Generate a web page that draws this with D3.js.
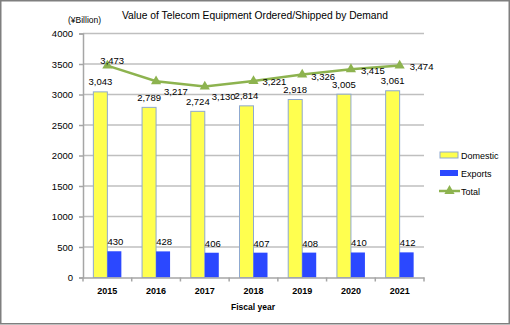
<!DOCTYPE html>
<html><head><meta charset="utf-8">
<script src="https://cdn.jsdelivr.net/npm/d3@7"></script>
<style>body{margin:0;background:#fff}svg{display:block}text{font-family:"Liberation Sans",Arial,sans-serif;fill:#000}</style>
</head><body><svg id="c" width="510" height="325"></svg>
<script>
const years = ["2015","2016","2017","2018","2019","2020","2021"];
const domestic = [3043,2789,2724,2814,2918,3005,3061];
const exportsV = [430,428,406,407,408,410,412];
const total = [3473,3217,3130,3221,3326,3415,3474];
const yTicks = [0,500,1000,1500,2000,2500,3000,3500,4000];
const seriesNames = ["Domestic","Exports","Total"];
const totalLabelDx = [-7,8,7,9,9,10,10];
const totalLabelDy = [-6,10,9,0,1,1,0];

const svg = d3.select("#c");
const m = {l:83, r:424, t:33.5, b:277.5};
const x = d3.scaleBand().domain(years).range([m.l, m.r]).paddingInner(0).paddingOuter(0);
const y = d3.scaleLinear().domain([0,4000]).range([m.b, m.t]);
const bw = 14;
const fmt = d3.format(",");

svg.append("rect").attr("x",0.75).attr("y",0.75).attr("width",508.5).attr("height",323).attr("fill","#fff").attr("stroke","#7f7f7f").attr("stroke-width",1.5);

// gridlines
svg.append("g").selectAll("line").data(yTicks.filter(d=>d>0)).join("line")
  .attr("x1",m.l).attr("x2",m.r).attr("y1",d=>y(d)).attr("y2",d=>y(d))
  .attr("stroke","#bfbfbf").attr("stroke-width",1.5);

// y axis
const ya = svg.append("g").attr("transform",`translate(${m.l},0)`).call(d3.axisLeft(y).tickValues(yTicks).tickSize(4).tickPadding(6).tickFormat(d3.format("d")));
ya.select(".domain").attr("stroke","#a6a6a6").attr("stroke-width",1.5);
ya.selectAll(".tick line").attr("stroke","#a6a6a6").attr("stroke-width",1.5);
ya.selectAll("text").attr("font-size",9.5).attr("font-family","Liberation Sans, Arial, sans-serif").attr("fill","#000");

// bars
const g = svg.append("g");
g.selectAll(".dom").data(domestic).join("rect")
  .attr("x",(d,i)=>x(years[i])+x.bandwidth()/2-bw).attr("y",d=>y(d))
  .attr("width",bw).attr("height",d=>y(0)-y(d))
  .attr("fill","#ffff4f").attr("stroke","#8fa9cf").attr("stroke-width",1);
g.selectAll(".exp").data(exportsV).join("rect")
  .attr("x",(d,i)=>x(years[i])+x.bandwidth()/2).attr("y",d=>y(d))
  .attr("width",bw).attr("height",d=>y(0)-y(d))
  .attr("fill","#2b48ff");

// x axis
const xa = svg.append("g").attr("transform",`translate(0,${m.b})`).call(d3.axisBottom(x).tickSize(0).tickPadding(10));
xa.select(".domain").attr("stroke","#a6a6a6").attr("stroke-width",1.5);
xa.selectAll("text").attr("font-size",9).attr("font-weight","bold").attr("font-family","Liberation Sans, Arial, sans-serif").attr("fill","#000");
svg.append("g").selectAll("line").data(d3.range(years.length+1)).join("line")
  .attr("x1",i=>m.l+i*x.step()).attr("x2",i=>m.l+i*x.step()).attr("y1",m.b).attr("y2",m.b+4)
  .attr("stroke","#a6a6a6").attr("stroke-width",1.5);

// data labels bars
g.selectAll(".dl").data(domestic).join("text")
  .attr("x",(d,i)=>x(years[i])+x.bandwidth()/2-bw/2).attr("y",d=>y(d)-6.5)
  .attr("text-anchor","middle").attr("font-size",9.5).text(d=>fmt(d));
g.selectAll(".el").data(exportsV).join("text")
  .attr("x",(d,i)=>x(years[i])+x.bandwidth()/2+bw/2+1).attr("y",d=>y(d)-6)
  .attr("text-anchor","middle").attr("font-size",9.5).text(d=>fmt(d));

// total line
const cx = (d,i)=>x(years[i])+x.bandwidth()/2;
const line = d3.line().x(cx).y(d=>y(d));
svg.append("path").datum(total).attr("d",line).attr("fill","none").attr("stroke","#8db34f").attr("stroke-width",2.5);
const tri = d3.symbol().type(d3.symbolTriangle).size(45);
svg.append("g").selectAll("path").data(total).join("path")
  .attr("d",tri).attr("transform",(d,i)=>`translate(${cx(d,i)},${y(d)})`).attr("fill","#8db34f");
svg.append("g").selectAll("text").data(total).join("text")
  .attr("x",(d,i)=>cx(d,i)+totalLabelDx[i]).attr("y",(d,i)=>y(d)+totalLabelDy[i]+4)
  .attr("font-size",9.5).text(d=>fmt(d));

// titles
svg.append("text").attr("x",255).attr("y",19).attr("text-anchor","middle").attr("font-size",11.5)
  .attr("textLength",266).attr("lengthAdjust","spacingAndGlyphs")
  .text("Value of  Telecom Equipment Ordered/Shipped by Demand");
svg.append("text").attr("x",68).attr("y",23).attr("font-size",8.5).text("(¥Billion)");
svg.append("text").attr("x",253).attr("y",310).attr("text-anchor","middle").attr("font-size",8.5).attr("font-weight","bold").text("Fiscal year");

// legend
const lg = svg.append("g");
const ly = [155,173,191];
lg.append("rect").attr("x",440).attr("y",ly[0]-3).attr("width",18).attr("height",6).attr("fill","#ffff4f").attr("stroke","#8fa9cf");
lg.append("rect").attr("x",440).attr("y",ly[1]-3).attr("width",18).attr("height",6).attr("fill","#2b48ff");
lg.append("line").attr("x1",439).attr("x2",460).attr("y1",ly[2]).attr("y2",ly[2]).attr("stroke","#8db34f").attr("stroke-width",2.5);
lg.append("path").attr("d",tri).attr("transform",`translate(449.5,${ly[2]})`).attr("fill","#8db34f");
lg.selectAll("text").data(seriesNames).join("text").attr("x",461).attr("y",(d,i)=>ly[i]+3.5).attr("font-size",9).text(d=>d);
</script></body></html>
